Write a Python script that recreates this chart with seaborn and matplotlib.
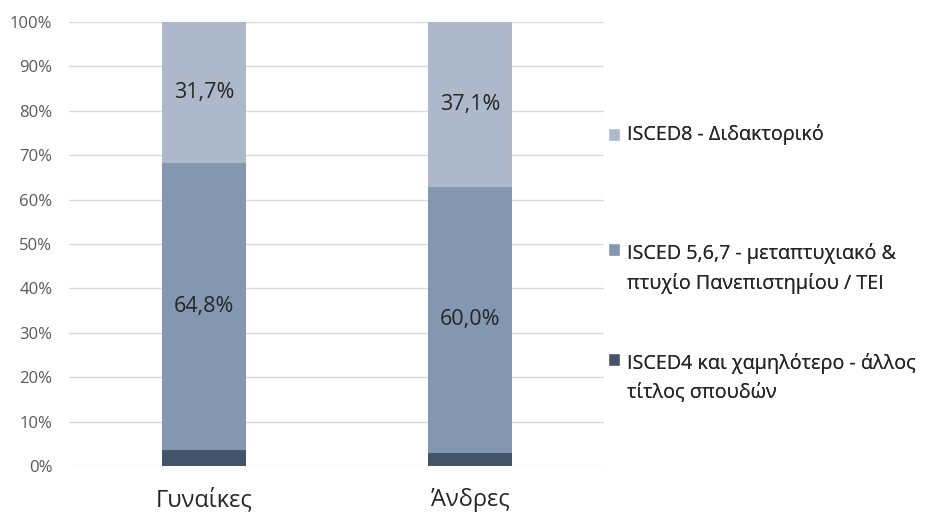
import matplotlib
matplotlib.use("Agg")
import matplotlib.pyplot as plt
import seaborn as sns
import pandas as pd
import numpy as np
from matplotlib.patches import Patch

categories = ["Γυναίκες", "Άνδρες"]
isced4 = [3.5, 2.9]
isced567 = [64.8, 60.0]
isced8 = [31.7, 37.1]
series_names = ["ISCED4 και χαμηλότερο - άλλος\nτίτλος σπουδών",
                "ISCED 5,6,7 - μεταπτυχιακό &\nπτυχίο Πανεπιστημίου / ΤΕΙ",
                "ISCED8 - Διδακτορικό"]
label_texts_567 = ["64,8%", "60,0%"]
label_texts_8 = ["31,7%", "37,1%"]
yticks = [0, 10, 20, 30, 40, 50, 60, 70, 80, 90, 100]

colors = ["#44546A", "#8497B0", "#ADB9CA"]

sns.set_theme(style="white")
plt.rcParams['font.family'] = ['Open Sans', 'DejaVu Sans']

df = pd.DataFrame({"cat": categories, "s4": isced4, "s567": isced567, "s8": isced8})

fig = plt.figure(figsize=(9.4, 5.14), dpi=100)
ax = fig.add_axes([69/940, 1-466/514, (604-69)/940, (466-22)/514])

w = 0.316
sns.barplot(data=df, x="cat", y="s4", ax=ax, color=colors[0], width=w, saturation=1, linewidth=0)
sns.barplot(data=df, x="cat", y="s567", ax=ax, color=colors[1], width=w, saturation=1,
            bottom=df["s4"], linewidth=0)
sns.barplot(data=df, x="cat", y="s8", ax=ax, color=colors[2], width=w, saturation=1,
            bottom=df["s4"] + df["s567"], linewidth=0)

for i in range(len(categories)):
    y1 = isced4[i] + isced567[i] / 2
    y2 = isced4[i] + isced567[i] + isced8[i] / 2
    ax.text(i, y1, label_texts_567[i], ha="center", va="center", fontsize=15.5, color="#262626")
    ax.text(i, y2, label_texts_8[i], ha="center", va="center", fontsize=15.5, color="#262626")

ax.set_xlim(-0.508, 1.504)
ax.set_ylim(0, 100)
ax.set_yticks(yticks)
ax.set_yticklabels([f"{t}%" for t in yticks], fontsize=12, color="#595959")
ax.tick_params(axis="y", length=0, pad=12)
ax.tick_params(axis="x", length=0, pad=16, labelsize=17, labelcolor="#262626")
ax.set_xlabel("")
ax.set_ylabel("")
ax.yaxis.grid(True, color="#D9D9D9", linewidth=1)
ax.set_axisbelow(True)
for s in ax.spines.values():
    s.set_visible(False)

handles = [Patch(facecolor=colors[2]), Patch(facecolor=colors[1]), Patch(facecolor=colors[0])]
labels = [series_names[2], series_names[1], series_names[0]]
tops = [138, 257, 367]
for h, l, t in zip(handles, labels, tops):
    leg = fig.legend([h], [l], loc="upper left", bbox_to_anchor=(608/940, 1 - (t - 14)/514),
                     frameon=False, fontsize=14.2, handlelength=0.6, handleheight=0.6,
                     handletextpad=0.35, borderaxespad=0, borderpad=0, labelcolor="#262626")
    for txt in leg.get_texts():
        txt.set_linespacing(1.55)
    for col in leg._legend_handle_box.get_children():
        for hp in col.get_children():
            hp.align = "center" if "\n" not in l else "top"
    fig.add_artist(leg)

fig.savefig("out.png", dpi=100)
